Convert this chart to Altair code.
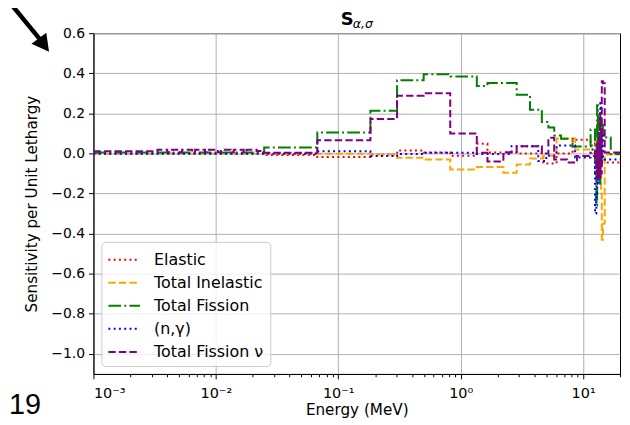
import altair as alt
import pandas as pd

# ---------------- data ----------------
series_names = ["Elastic", "Total Inelastic", "Total Fission", "(n,γ)", "Total Fission ν"]
series_colors = ["red", "orange", "green", "blue", "purple"]
series_dashes = [[2, 3.3], [7.4, 3.2], [12.8, 3.2, 2, 3.2], [2, 3.3], [7.4, 3.2]]

# Elastic (bin edges in MeV, one value per bin)
elastic_edges = [0.001, 0.0248, 0.0674, 0.183, 0.302, 0.498, 0.821, 1.353, 1.653, 2.865,
                 4.724, 6.065, 8.2, 11.5, 12.5, 12.8, 13.0, 13.2, 13.4, 13.6, 13.8, 14.0,
                 14.2, 14.5, 15.0, 20.0]
elastic_vals = [0.0, -0.008, -0.018, -0.005, 0.015, 0.005, -0.012, 0.048, 0.005, 0.0,
                -0.05, 0.0, 0.068, 0.04, 0.05, -0.05, 0.04, -0.08, 0.03, -0.1, 0.05, -0.05,
                0.02, -0.02, -0.045]

# Total Inelastic
inel_edges = [0.001, 0.183, 0.302, 0.498, 0.821, 1.353, 2.231, 2.865, 3.679, 4.724, 6.065,
              8.6, 11.5, 12.5, 12.8, 13.0, 13.2, 13.4, 13.6, 13.8, 14.0, 14.2, 14.5, 15.0, 20.0]
inel_vals = [-0.002, -0.005, -0.021, -0.03, -0.08, -0.068, -0.096, -0.055, -0.025, -0.012,
             0.075, 0.02, 0.0, 0.0, 0.05, 0.15, -0.05, 0.1, -0.1, 0.05, -0.2, -0.43, -0.35,
             -0.005]

# Total Fission
fis_edges = [0.001, 0.0248, 0.0674, 0.183, 0.302, 0.498, 0.821, 1.353, 1.653, 2.865, 3.679,
             4.6, 5.2, 5.8, 6.6, 8.2, 11.5, 12.5, 12.8, 13.0, 13.2, 13.4, 13.6, 13.8, 14.0,
             14.2, 14.5, 15.0, 16.8, 20.0]
fis_vals = [0.005, 0.03, 0.105, 0.213, 0.365, 0.395, 0.384, 0.337, 0.352, 0.293, 0.218,
            0.157, 0.13, 0.09, 0.073, 0.035, 0.12, -0.1, -0.26, 0.24, -0.05, 0.2, -0.15, 0.1,
            -0.05, 0.15, 0.08, 0.08, -0.003]

# (n,gamma)
ng_edges = [0.001, 0.0674, 0.183, 0.302, 0.498, 0.821, 1.353, 2.6, 4.3, 5.0, 6.065, 8.6,
            11.5, 12.5, 12.8, 13.0, 13.2, 13.4, 13.6, 13.8, 14.0, 14.2, 14.5, 15.0, 20.0]
ng_vals = [-0.002, 0.011, -0.013, -0.003, 0.004, 0.003, -0.003, 0.036, -0.038, -0.01, 0.04,
           -0.02, 0.02, -0.30, -0.2, 0.05, -0.15, 0.1, -0.1, 0.25, -0.05, 0.1, -0.02, -0.03]

# Total Fission nu
nu_edges = [0.001, 0.00333, 0.00401, 0.00416, 0.00501, 0.0053, 0.0064, 0.00676, 0.00815,
            0.0086, 0.0104, 0.011, 0.0132, 0.014, 0.0169, 0.0178, 0.0215, 0.0248, 0.0674,
            0.183, 0.302, 0.498, 0.821, 1.353, 1.653, 2.231, 2.865, 4.6, 5.2, 5.8, 7.4, 8.9,
            12.5, 12.8, 13.0, 13.2, 13.4, 13.6, 13.8, 14.0, 14.2, 14.5, 15.0, 20.0]
nu_vals = [0.011, 0.019, 0.006, 0.019, 0.006, 0.019, 0.006, 0.019, 0.006, 0.019, 0.006,
           0.019, 0.006, 0.019, 0.006, 0.019, 0.012, 0.004, 0.066, 0.172, 0.288, 0.30, 0.10,
           0.003, -0.04, 0.006, 0.036, 0.0, 0.078, -0.03, -0.045, -0.013, 0.02, -0.1, 0.05,
           -0.13, 0.1, -0.12, 0.2, -0.1, 0.36, 0.35, 0.005]

all_edges = [elastic_edges, inel_edges, fis_edges, ng_edges, nu_edges]
all_vals = [elastic_vals, inel_vals, fis_vals, ng_vals, nu_vals]

x_major = [0.001, 0.01, 0.1, 1, 10]
x_major_labels = ["10⁻³", "10⁻²", "10⁻¹", "10⁰", "10¹"]
x_minor = [round(m * d, 6) for d in x_major for m in range(2, 10) if m * d <= 20]
y_ticks = [-1.0, -0.8, -0.6, -0.4, -0.2, 0.0, 0.2, 0.4, 0.6]


def step_rows(name, edges, vals):
    rows = [{"E": e, "S": v, "series": name} for e, v in zip(edges[:-1], vals)]
    rows.append({"E": edges[-1], "S": vals[-1], "series": name})
    return rows


FONT = "DejaVu Sans"
W, H = 530, 343

major_test = "indexof([0.001,0.01,0.1,1,10], datum.value) >= 0"
label_expr = " : ".join(
    f"datum.value == {v} ? '{t}'" for v, t in zip(x_major, x_major_labels)
) + " : ''"

x_enc = alt.X(
    "E:Q",
    scale=alt.Scale(type="log", domain=[0.001, 20], nice=False),
    axis=alt.Axis(
        values=x_major + x_minor,
        labelExpr=label_expr,
        title="Energy (MeV)",
        tickSize={"condition": {"test": major_test, "value": 4.9}, "value": 2.8},
        gridOpacity={"condition": {"test": major_test, "value": 1}, "value": 0},
        labelFontSize=14.5,
        labelPadding=8,
        titlePadding=2,
    ),
)
y_enc = alt.Y(
    "S:Q",
    scale=alt.Scale(domain=[-1.1, 0.6], nice=False, zero=False),
    axis=alt.Axis(values=y_ticks, format=".1f", title="Sensitivity per Unit Lethargy",
                  tickSize=4.9, labelPadding=4, titlePadding=11),
)
color_enc = alt.Color("series:N", scale=alt.Scale(domain=series_names, range=series_colors),
                      legend=alt.Legend(title=None))
dash_enc = alt.StrokeDash("series:N", scale=alt.Scale(domain=series_names, range=series_dashes),
                          legend=alt.Legend(title=None))

layers = []
for name, edges, vals in zip(series_names, all_edges, all_vals):
    df = pd.DataFrame(step_rows(name, edges, vals))
    layers.append(
        alt.Chart(df).mark_line(interpolate="step-after", strokeWidth=2, strokeCap="butt")
        .encode(x=x_enc, y=y_enc, color=color_enc, strokeDash=dash_enc)
    )

one = pd.DataFrame({"k": [0]})
title_s = alt.Chart(one).mark_text(text="S", font=FONT, fontSize=18, fontWeight="bold",
                                   align="left", baseline="alphabetic", color="black").encode(
    x=alt.value(249), y=alt.value(-8))
title_sub = alt.Chart(one).mark_text(text="α,σ", font=FONT, fontSize=12.5, fontStyle="italic",
                                     align="left", baseline="alphabetic", color="black").encode(
    x=alt.value(261), y=alt.value(-5))
arrow_shaft = alt.Chart(one).mark_rule(color="black", strokeWidth=4.5).encode(
    x=alt.value(-86), y=alt.value(-33), x2=alt.value(-54), y2=alt.value(6))
arrow_head = alt.Chart(one).mark_point(shape="M0,0L-0.55,1L0.55,1Z", filled=True, color="black",
                                       size=1156, angle=143, opacity=1).encode(
    x=alt.value(-44.7), y=alt.value(18.7))
nineteen = alt.Chart(one).mark_text(text="19", font="Liberation Sans", fontSize=29,
                                    align="left", baseline="alphabetic", color="black").encode(
    x=alt.value(-85), y=alt.value(383))

chart = alt.layer(*layers, title_s, title_sub, arrow_shaft, arrow_head, nineteen).properties(
    width=W, height=H,
    padding={"left": 86, "top": 24, "right": 2, "bottom": 47},
    autosize=alt.AutoSizeParams(type="none"),
).configure_view(
    stroke="black", strokeWidth=1
).configure_axis(
    labelFont=FONT, titleFont=FONT, labelFontSize=14, titleFontSize=15.3,
    titleFontWeight="normal", labelColor="black", titleColor="black",
    domainColor="black", domainWidth=1, tickColor="black", tickWidth=1,
    gridColor="#b0b0b0", gridWidth=1,
).configure_legend(
    orient="bottom-left", offset=8, padding=6,
    fillColor="rgba(255,255,255,0.8)", strokeColor="#cccccc", cornerRadius=4,
    symbolType="M-1.45,0H1.45", symbolSize=484, symbolStrokeWidth=2,
    symbolOffset=5, labelOffset=18, labelFont=FONT, labelFontSize=16,
    labelColor="black", rowPadding=3.2, labelLimit=300,
)

chart.save("out.html", embed_options={"renderer": "svg", "actions": False})
